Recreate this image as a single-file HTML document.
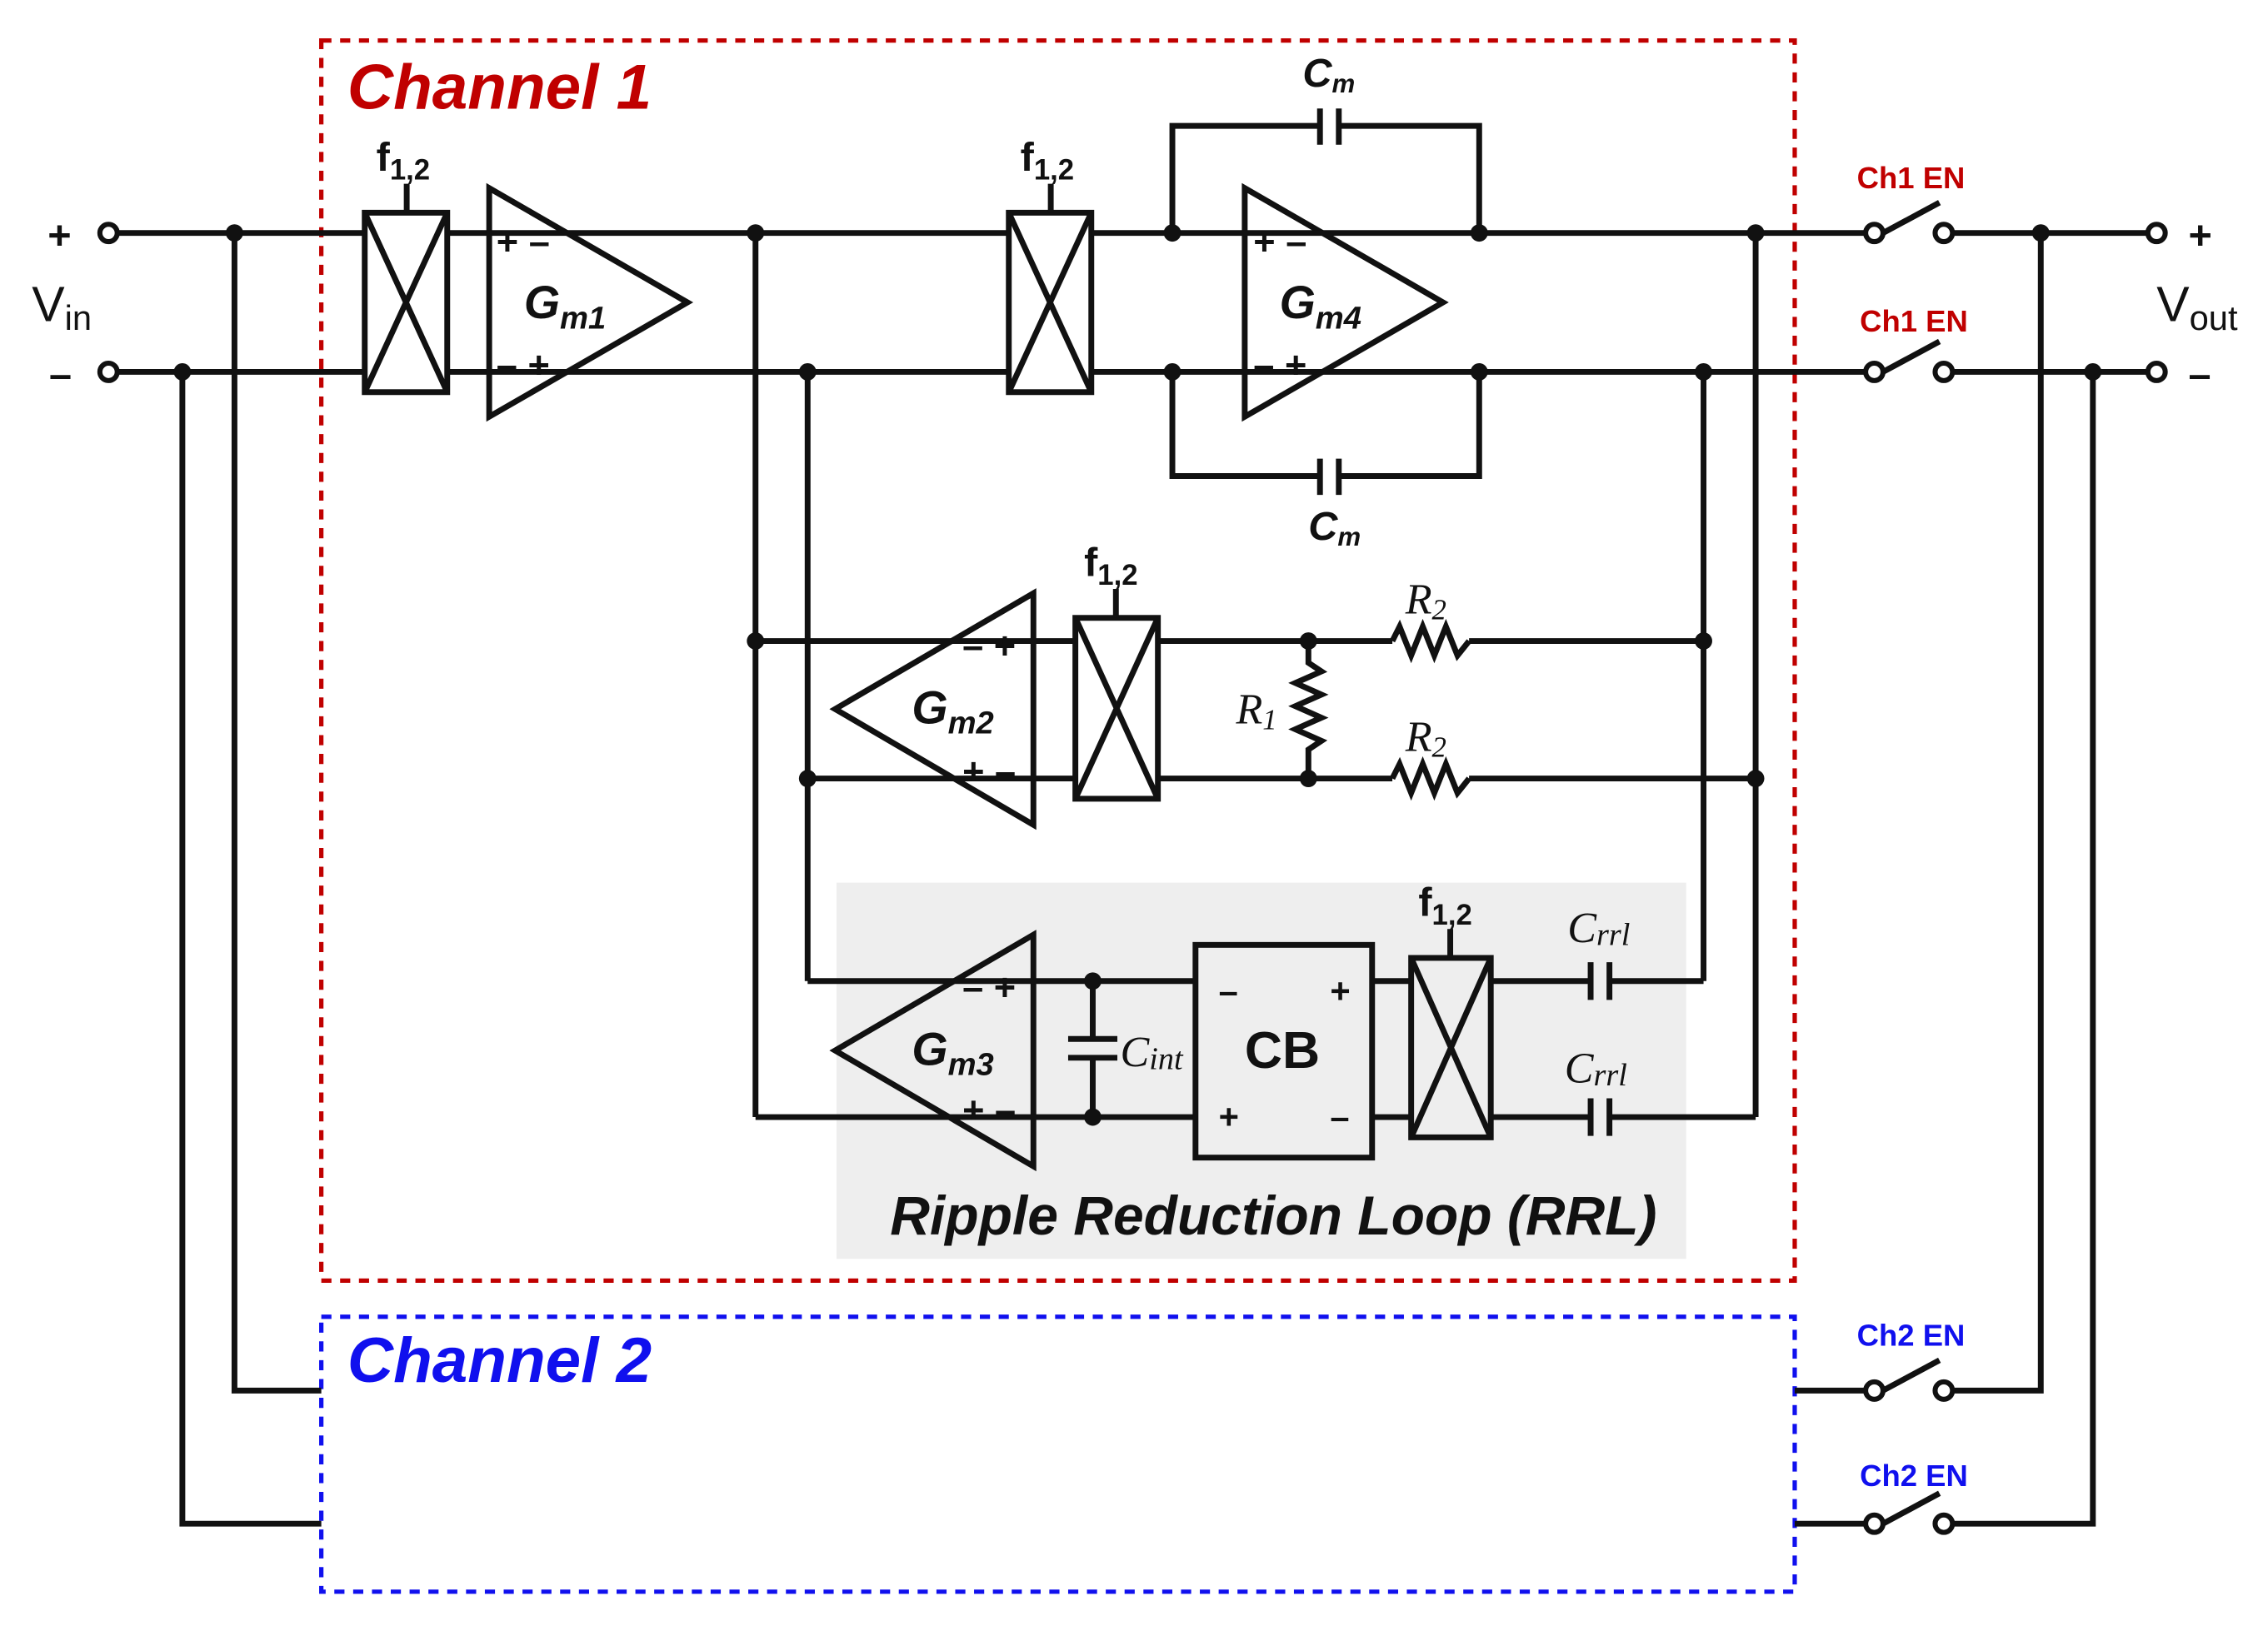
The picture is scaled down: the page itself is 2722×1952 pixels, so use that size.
<!DOCTYPE html>
<html><head><meta charset="utf-8"><style>
html,body{margin:0;padding:0;background:#fff;}
svg{display:block;}
text{font-family:"Liberation Sans",sans-serif;font-weight:bold;fill:#111;}
.ser{font-family:"Liberation Serif",serif;font-style:italic;font-weight:normal;}
</style></head><body>
<svg width="2722" height="1952" viewBox="0 0 1567 1123.7" preserveAspectRatio="none" xmlns="http://www.w3.org/2000/svg">
<rect x="578" y="610" width="587" height="260" fill="#eeeeee"/>
<g fill="none" stroke-width="3" stroke-dasharray="7,6">
<rect x="222" y="28" width="1018" height="857" stroke="#c00000"/>
<rect x="222" y="910" width="1018" height="190" stroke="#1010ee"/>
</g>
<g stroke="#111" stroke-width="4" fill="none" stroke-linejoin="miter">
<path d="M81 161 H252 M309 161 H697 M81 257 H252 M309 257 H697"/>
<path d="M162 161 V961 H222 M126 257 V1053 H222"/>
<path d="M522 161 V772 M558 257 V678"/>
<rect x="252" y="147" width="57" height="124"/><path d="M252 147 L309 271 M309 147 L252 271 M281 147 V127"/>
<rect x="697" y="147" width="57" height="124"/><path d="M697 147 L754 271 M754 147 L697 271 M726 147 V127"/>
<rect x="743" y="427" width="57" height="125"/><path d="M743 427 L800 552 M800 427 L743 552 M771 427 V407"/>
<rect x="975" y="662" width="55" height="124"/><path d="M975 662 L1030 786 M1030 662 L975 786 M1002 662 V642"/>
<path d="M338 130 L338 288 L475 209 Z"/>
<path d="M860 130 L860 288 L997 209 Z"/>
<path d="M754 161 H1295 M754 257 H1295"/>
<path d="M810 161 V87 H912 M925 87 H1022 V161 M912 75 V100 M925 75 V100"/>
<path d="M810 257 V329 H912 M925 329 H1022 V257 M912 317 V342 M925 317 V342"/>
<path d="M1301 161 L1340 140 M1349 161 H1484 M1301 257 L1340 236 M1349 257 H1484"/>
<path d="M1240 961 H1289 M1301 961 L1340 940 M1349 961 H1410 V161"/>
<path d="M1240 1053 H1289 M1301 1053 L1340 1032 M1349 1053 H1446 V257"/>
<path d="M1213 161 V772 M1177 257 V678"/>
<path d="M714 410 L714 570 L577 490 Z"/>
<path d="M522 443 H743 M558 538 H743 M800 443 H962 M1015 443 H1177 M800 538 H962 M1015 538 H1213"/>
<path d="M904 443 V458 L913 464 L895 472 L913 480 L895 488 L913 496 L895 504 L913 512 L904 518 V538"/>
<path d="M962 443 L967 433 L975 453 L983 433 L991 453 L999 433 L1007 453 L1015 443"/>
<path d="M962 538 L967 528 L975 548 L983 528 L991 548 L999 528 L1007 548 L1015 538"/>
<path d="M714 646 L714 806 L577 726 Z"/>
<path d="M558 678 H826 M522 772 H826 M755 678 V718 M755 731 V772 M738 718 H772 M738 731 H772"/>
<rect x="826" y="653" width="122" height="147"/>
<path d="M948 678 H975 M948 772 H975 M1030 678 H1099 M1112 678 H1177 M1030 772 H1099 M1112 772 H1213 M1099 665 V691 M1112 665 V691 M1099 759 V785 M1112 759 V785"/>
</g>
<g fill="#fff" stroke="#111" stroke-width="3.5">
<circle cx="75" cy="161" r="6"/><circle cx="75" cy="257" r="6"/>
<circle cx="1490" cy="161" r="6"/><circle cx="1490" cy="257" r="6"/>
<circle cx="1295" cy="161" r="6"/><circle cx="1343" cy="161" r="6"/>
<circle cx="1295" cy="257" r="6"/><circle cx="1343" cy="257" r="6"/>
<circle cx="1295" cy="961" r="6"/><circle cx="1343" cy="961" r="6"/>
<circle cx="1295" cy="1053" r="6"/><circle cx="1343" cy="1053" r="6"/>
</g>
<g fill="#111">
<circle cx="162" cy="161" r="6"/><circle cx="126" cy="257" r="6"/>
<circle cx="522" cy="161" r="6"/><circle cx="558" cy="257" r="6"/>
<circle cx="810" cy="161" r="6"/><circle cx="810" cy="257" r="6"/>
<circle cx="1022" cy="161" r="6"/><circle cx="1022" cy="257" r="6"/>
<circle cx="1213" cy="161" r="6"/><circle cx="1177" cy="257" r="6"/>
<circle cx="1410" cy="161" r="6"/><circle cx="1446" cy="257" r="6"/>
<circle cx="522" cy="443" r="6"/><circle cx="558" cy="538" r="6"/>
<circle cx="904" cy="443" r="6"/><circle cx="904" cy="538" r="6"/>
<circle cx="1177" cy="443" r="6"/><circle cx="1213" cy="538" r="6"/>
<circle cx="755" cy="678" r="6"/><circle cx="755" cy="772" r="6"/>
</g>
<text x="240" y="75" font-size="44" font-style="italic" style="fill:#c00000">Channel 1</text>
<text x="240" y="955" font-size="44" font-style="italic" style="fill:#1010ee">Channel 2</text>
<text x="33" y="172" font-size="28">+</text><text x="34" y="268" font-size="28">–</text>
<text x="22" y="222" font-size="34" style="font-weight:normal">V<tspan font-size="24" dy="6">in</tspan></text>
<text x="1512" y="172" font-size="28">+</text><text x="1512" y="268" font-size="28">–</text>
<text x="1490" y="222" font-size="34" style="font-weight:normal">V<tspan font-size="24" dy="6">out</tspan></text>
<text x="260" y="118" font-size="28">f<tspan font-size="20" dy="6">1,2</tspan></text>
<text x="705" y="118" font-size="28">f<tspan font-size="20" dy="6">1,2</tspan></text>
<text x="749" y="398" font-size="28">f<tspan font-size="20" dy="6">1,2</tspan></text>
<text x="980" y="633" font-size="28">f<tspan font-size="20" dy="6">1,2</tspan></text>
<text x="343" y="176" font-size="26">+ –</text><text x="343" y="261" font-size="26">– +</text>
<text x="866" y="176" font-size="26">+ –</text><text x="866" y="261" font-size="26">– +</text>
<text x="665" y="455" font-size="26">– +</text><text x="665" y="542" font-size="26">+ –</text>
<text x="665" y="691" font-size="26">– +</text><text x="665" y="776" font-size="26">+ –</text>
<text x="362" y="220" font-size="32" font-style="italic">G<tspan font-size="22" dy="7">m1</tspan></text>
<text x="884" y="220" font-size="32" font-style="italic">G<tspan font-size="22" dy="7">m4</tspan></text>
<text x="630" y="500" font-size="32" font-style="italic">G<tspan font-size="22" dy="7">m2</tspan></text>
<text x="630" y="736" font-size="32" font-style="italic">G<tspan font-size="22" dy="7">m3</tspan></text>
<text x="900" y="60" font-size="28" font-style="italic">C<tspan font-size="18" dy="4">m</tspan></text>
<text x="904" y="373" font-size="28" font-style="italic">C<tspan font-size="18" dy="4">m</tspan></text>
<text class="ser" x="854" y="500" font-size="30">R<tspan font-size="20" dy="4">1</tspan></text>
<text class="ser" x="971" y="424" font-size="30">R<tspan font-size="20" dy="4">2</tspan></text>
<text class="ser" x="971" y="519" font-size="30">R<tspan font-size="20" dy="4">2</tspan></text>
<text class="ser" x="774" y="737" font-size="30">C<tspan font-size="22" dy="2">int</tspan></text>
<text class="ser" x="1083" y="651" font-size="30">C<tspan font-size="22" dy="2">rrl</tspan></text>
<text class="ser" x="1081" y="748" font-size="30">C<tspan font-size="22" dy="2">rrl</tspan></text>
<text x="860" y="738" font-size="36">CB</text>
<text x="842" y="693" font-size="24">–</text><text x="919" y="693" font-size="24">+</text>
<text x="842" y="780" font-size="24">+</text><text x="919" y="780" font-size="24">–</text>
<text x="615" y="853" font-size="38" font-style="italic">Ripple Reduction Loop (RRL)</text>
<text x="1283" y="130" font-size="21" style="fill:#c00000">Ch1 EN</text>
<text x="1285" y="229" font-size="21" style="fill:#c00000">Ch1 EN</text>
<text x="1283" y="930" font-size="21" style="fill:#1010ee">Ch2 EN</text>
<text x="1285" y="1027" font-size="21" style="fill:#1010ee">Ch2 EN</text>
</svg>
</body></html>
